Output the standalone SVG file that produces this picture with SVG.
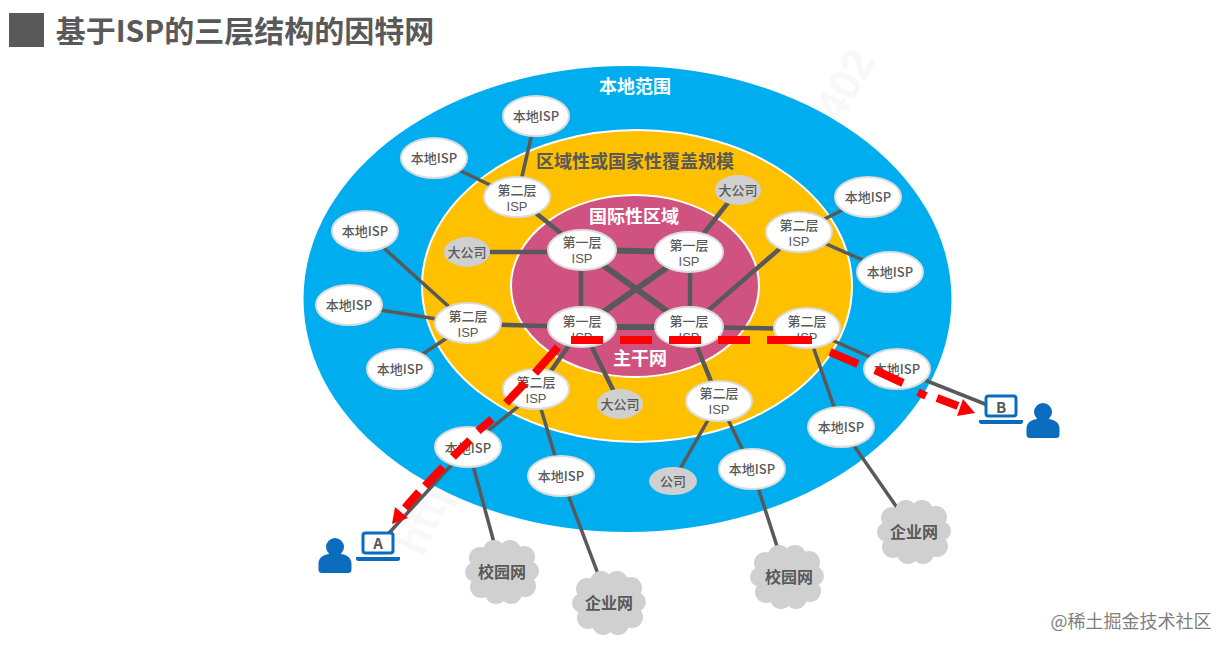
<svg xmlns="http://www.w3.org/2000/svg" xmlns:xlink="http://www.w3.org/1999/xlink" width="1231" height="651" viewBox="0 0 1231 651">
<style>
text{font-family:"Noto Sans CJK SC","Noto Sans",sans-serif;text-anchor:middle}
.lb{font-size:13px;font-weight:500;fill:#595959}
.lb tspan{font-family:"Liberation Sans",sans-serif}
.nd{fill:#fff;stroke:#dcdcdc;stroke-width:2}
.co{fill:#d0d0d0}
.rg{font-size:18px;font-weight:700}
.cl{font-size:16px;font-weight:700;fill:#595959}
.a{stroke:#595959;stroke-width:6;fill:none}
.c{stroke:#595959;stroke-width:4.500;fill:none}
.b{stroke:#595959;stroke-width:3.500;fill:none}
.r{stroke:#f00;stroke-width:8;fill:none}
.u{fill:#0b6cbd}
.wm{font-family:"Liberation Sans",sans-serif;font-weight:700;fill:#f8f8f8}
</style>
<defs>
<g id="cloud" fill="#d0d0d0"><ellipse cx="0" cy="0" rx="29" ry="25"/><circle cx="-22" cy="-14" r="11"/><circle cx="-8" cy="-21" r="11"/><circle cx="8" cy="-21" r="11"/><circle cx="22" cy="-15" r="11"/><circle cx="27" cy="-1" r="10"/><circle cx="23" cy="14" r="11"/><circle cx="9" cy="21" r="11"/><circle cx="-6" cy="21" r="11"/><circle cx="-21" cy="15" r="11"/><circle cx="-27" cy="0" r="10"/></g>
<g id="user"><circle cx="0" cy="-15" r="9" class="u"/><path d="M-13 11a3.500 3.500 0 0 1-3.500-3.500v-6c0-6 6-9.500 11-9.500h11c5 0 11 3.500 11 9.500v6a3.500 3.500 0 0 1-3.500 3.500z" class="u"/></g>
<g id="laptop"><rect x="-15" y="-11" width="30" height="20" rx="2.500" fill="#fff" stroke="#0b6cbd" stroke-width="3"/><path d="M-22 13h44v1.500a2.500 2.500 0 0 1-2.500 2.500h-39a2.500 2.500 0 0 1-2.500-2.500z" fill="#0b6cbd"/></g>
</defs>
<rect width="1231" height="651" fill="#fff"/>
<text class="wm" font-size="44" transform="translate(858 92) rotate(-60)">402</text>
<text class="wm" font-size="44" transform="translate(440 520) rotate(-65)">http</text>
<rect x="9" y="13" width="35" height="34" fill="#595959"/>
<text x="245" y="42" font-size="30" font-weight="700" fill="#595959">基于ISP的三层结构的因特网</text>
<g id="regions">
<ellipse cx="627.500" cy="299" rx="324" ry="233" fill="#00aeef"/>
<ellipse cx="637" cy="286" rx="215" ry="156" fill="#ffc000" stroke="#fff" stroke-width="2"/>
<ellipse cx="635" cy="286" rx="124" ry="91" fill="#cf5280" stroke="#fff" stroke-width="2"/>
<text class="rg" x="635" y="93" fill="#fff">本地范围</text>
<text class="rg" x="635" y="168" fill="#595959">区域性或国家性覆盖规模</text>
<text class="rg" x="634" y="223" fill="#fff">国际性区域</text>
<text class="rg" x="640" y="365" fill="#fff">主干网</text>
</g>
<g id="connectors">
<path class="a" d="M582 250L689 252M582 327L689 327M582 250L689 327M689 252L582 327"/>
<path class="c" d="M581 250V327M690 252V327M480 252L582 252M738 190L689 252M799 232L689 327M468 324L582 327M689 327L807 329M517 198L582 250M582 327L536 392M582 327L620 404M689 327L719 401"/>
<path class="b" d="M536 116L517 198M434 158L517 198M365 231L468 324M349 305L468 324M400 369L468 324M536 392L468 447M536 392L561 476M719 401L673 481M719 401L752 469M807 329L841 427M807 329L897 369M799 232L868 197M799 232L890 272M897 369L1000 410M468 447L378 545M468 447L502 572M561 476L609 603M752 469L787 577M841 427L914 532"/>
</g>
<g id="t1a"><ellipse class="nd" cx="582" cy="250" rx="34" ry="20"/><text class="lb" x="582" y="247">第一层<tspan x="582" dy="16">ISP</tspan></text></g>
<g id="t1b"><ellipse class="nd" cx="689" cy="252" rx="34" ry="20"/><text class="lb" x="689" y="250">第一层<tspan x="689" dy="16">ISP</tspan></text></g>
<g id="t1c"><ellipse class="nd" cx="582" cy="327" rx="34" ry="20"/><text class="lb" x="582" y="326">第一层<tspan x="582" dy="16">ISP</tspan></text></g>
<g id="t1d"><ellipse class="nd" cx="689" cy="327" rx="34" ry="20"/><text class="lb" x="689" y="326">第一层<tspan x="689" dy="16">ISP</tspan></text></g>
<g id="t2a"><ellipse class="nd" cx="517" cy="197" rx="33" ry="20"/><text class="lb" x="517" y="195">第二层<tspan x="517" dy="16">ISP</tspan></text></g>
<g id="t2b"><ellipse class="nd" cx="799" cy="232" rx="33" ry="20"/><text class="lb" x="799" y="230">第二层<tspan x="799" dy="16">ISP</tspan></text></g>
<g id="t2c"><ellipse class="nd" cx="468" cy="323" rx="33" ry="20"/><text class="lb" x="468" y="321">第二层<tspan x="468" dy="16">ISP</tspan></text></g>
<g id="t2d"><ellipse class="nd" cx="807" cy="328" rx="33" ry="20"/><text class="lb" x="807" y="326">第二层<tspan x="807" dy="16">ISP</tspan></text></g>
<g id="t2e"><ellipse class="nd" cx="536" cy="389" rx="33" ry="20"/><text class="lb" x="536" y="387">第二层<tspan x="536" dy="16">ISP</tspan></text></g>
<g id="t2f"><ellipse class="nd" cx="719" cy="401" rx="33" ry="20"/><text class="lb" x="719" y="398">第二层<tspan x="719" dy="16">ISP</tspan></text></g>
<g id="l1"><ellipse class="nd" cx="536" cy="116" rx="33" ry="20"/><text class="lb" x="536" y="121">本地ISP</text></g>
<g id="l2"><ellipse class="nd" cx="434" cy="158" rx="33" ry="20"/><text class="lb" x="434" y="163">本地ISP</text></g>
<g id="l3"><ellipse class="nd" cx="365" cy="231" rx="33" ry="20"/><text class="lb" x="365" y="236">本地ISP</text></g>
<g id="l4"><ellipse class="nd" cx="349" cy="305" rx="33" ry="20"/><text class="lb" x="349" y="310">本地ISP</text></g>
<g id="l5"><ellipse class="nd" cx="400" cy="369" rx="33" ry="20"/><text class="lb" x="400" y="374">本地ISP</text></g>
<g id="l6"><ellipse class="nd" cx="468" cy="447" rx="33" ry="20"/><text class="lb" x="468" y="453">本地ISP</text></g>
<g id="l7"><ellipse class="nd" cx="561" cy="476" rx="33" ry="20"/><text class="lb" x="561" y="481">本地ISP</text></g>
<g id="l8"><ellipse class="nd" cx="752" cy="469" rx="33" ry="20"/><text class="lb" x="752" y="474">本地ISP</text></g>
<g id="l9"><ellipse class="nd" cx="841" cy="427" rx="33" ry="20"/><text class="lb" x="841" y="432">本地ISP</text></g>
<g id="l10"><ellipse class="nd" cx="897" cy="369" rx="33" ry="20"/><text class="lb" x="897" y="374">本地ISP</text></g>
<g id="l11"><ellipse class="nd" cx="868" cy="197" rx="33" ry="20"/><text class="lb" x="868" y="202">本地ISP</text></g>
<g id="l12"><ellipse class="nd" cx="890" cy="272" rx="33" ry="20"/><text class="lb" x="890" y="277">本地ISP</text></g>
<g id="c1"><ellipse class="co" cx="467" cy="252" rx="23" ry="15"/><text class="lb" x="467" y="257">大公司</text></g>
<g id="c2"><ellipse class="co" cx="738" cy="190" rx="23" ry="15"/><text class="lb" x="738" y="195">大公司</text></g>
<g id="c3"><ellipse class="co" cx="620" cy="404" rx="23" ry="15"/><text class="lb" x="620" y="409">大公司</text></g>
<g id="c4"><ellipse class="co" cx="673" cy="481" rx="24" ry="14"/><text class="lb" x="673" y="486">公司</text></g>
<g id="n1"><use xlink:href="#cloud" href="#cloud" transform="translate(502 572)"/><text class="cl" x="502" y="578">校园网</text></g>
<g id="n2"><use xlink:href="#cloud" href="#cloud" transform="translate(609 603)"/><text class="cl" x="609" y="609">企业网</text></g>
<g id="n3"><use xlink:href="#cloud" href="#cloud" transform="translate(787 577)"/><text class="cl" x="789" y="583">校园网</text></g>
<g id="n4"><use xlink:href="#cloud" href="#cloud" transform="translate(914 532)"/><text class="cl" x="914" y="538">企业网</text></g>
<g id="hostA"><use xlink:href="#laptop" href="#laptop" transform="translate(378 544)"/><text x="378" y="549" font-size="15" font-weight="700" fill="#595959">A</text><use xlink:href="#user" href="#user" transform="translate(335 562)"/></g>
<g id="hostB"><use xlink:href="#laptop" href="#laptop" transform="translate(1001 407)"/><text x="1001" y="413" font-size="15" font-weight="700" fill="#595959">B</text><use xlink:href="#user" href="#user" transform="translate(1043 427)"/></g>
<g id="route">
<path class="r" d="M571 340H603M620 340H652M669 340H701M718 340H750M767 340H812M830 352L858 364M875 370L903 383M918 392L926 396M937 398L958 406M558 347L535 373M525 383L506 403M492 419L478 431M470 440L453 457M443 467L425 486M419 492L405 508"/>
<path d="M963 399L975 413L957 416z" fill="#f00"/>
<path d="M395 507L392 524L408 518z" fill="#f00"/>
</g>
<text x="1131" y="628" font-size="18" fill="#7f7f7f">@稀土掘金技术社区</text>
</svg>
